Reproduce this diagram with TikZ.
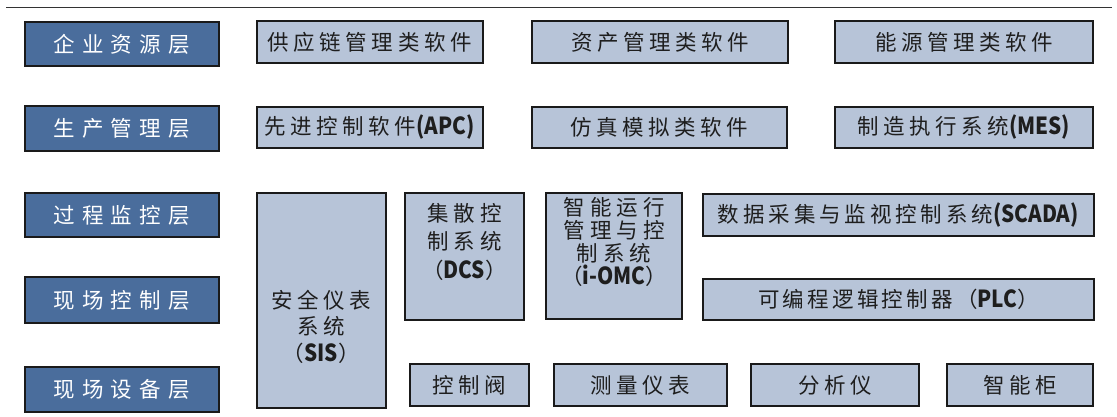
\documentclass[tikz,border=0pt]{standalone}
\usepackage{fontspec}
\newfontfamily\cjkfont{Noto Sans CJK SC}
\newcommand\lsp[1]{\addfontfeature{LetterSpace=#1}}
\newcommand\lat[1]{{\fontsize{23.5}{26}\selectfont\bfseries\addfontfeature{LetterSpace=0,FakeStretch=0.88}#1}}
\definecolor{layerblue}{HTML}{4A6D9C}
\definecolor{itemgray}{HTML}{B7C4D8}
\definecolor{edge}{HTML}{1A1A1A}
\definecolor{txt}{HTML}{1E1E1E}
\begin{document}
\begin{tikzpicture}[x=1pt,y=-1pt,
  layer/.style={draw=edge, line width=2pt, fill=layerblue, text=white, inner sep=0pt,
    minimum width=193.5pt, font=\cjkfont\fontsize{21.5}{26}\selectfont\lsp{34}},
  item/.style={draw=edge, line width=2pt, fill=itemgray, text=txt, inner sep=0pt,
    minimum height=42pt, font=\cjkfont\fontsize{21.5}{26}\selectfont\lsp{21}},
  itemtext/.style={text=txt, inner sep=0pt, align=center},
]
\useasboundingbox (0,0) rectangle (1117,416);
\fill[white] (0,0) rectangle (1117,416);
\coordinate (tl) at (6,7.5);
\coordinate (tr) at (1112,7.5);
\draw[line width=1.5pt, color=black!80] (tl) -- (tr);

% layer labels
\node[layer, minimum height=44pt] (l1) at (121.75,44) {企业资源层};
\node[layer, minimum height=45pt] (l2) at (121.75,128.5) {生产管理层};
\node[layer, minimum height=44pt] (l3) at (121.75,215) {过程监控层};
\node[layer, minimum height=46pt] (l4) at (121.75,300) {现场控制层};
\node[layer, minimum height=45pt] (l5) at (121.75,389.5) {现场设备层};

% row 1
\node[item, minimum width=226.5pt] (sc) at (369.75,42) {供应链管理类软件};
\node[item, minimum width=256.4pt] (zc) at (660.2,42) {资产管理类软件};
\node[item, minimum width=257.5pt] (ny) at (964,42) {能源管理类软件};

% row 2
\node[item, minimum width=226.5pt, minimum height=41pt] (apc) at (369.75,127.5) {先进控制软件\lat{(APC)}};
\node[item, minimum width=254.6pt, minimum height=41pt] (fz) at (659.3,127.5) {仿真模拟类软件};
\node[item, minimum width=257.5pt, minimum height=41pt] (mes) at (964,127.5) {制造执行系统\lat{(MES)}};

% tall boxes
\node[item, minimum width=129pt, minimum height=215pt] (sis) at (321.25,300.5) {};
\node[itemtext, font=\cjkfont\fontsize{21.5}{26.5}\selectfont\lsp{21}] (sist) at (321.25,326.5) {安全仪表\\系统\\（\lat{SIS}）};
\node[item, minimum width=119.7pt, minimum height=127pt] (dcs) at (464.5,256.5) {};
\node[itemtext, font=\cjkfont\fontsize{21.5}{28.5}\selectfont\lsp{24}] (dcst) at (464.5,241.5) {集散控\\制系统\\（\lat{DCS}）};
\node[item, minimum width=135.4pt, minimum height=126pt] (omc) at (614.1,256) {};
\node[itemtext, font=\cjkfont\fontsize{21.5}{23}\selectfont\lsp{23}] (omct) at (614.1,241.5) {智能运行\\管理与控\\制系统\\（\lat{i-OMC}）};

% right wide
\node[item, minimum width=391.2pt, minimum height=41.5pt] (scada) at (898.4,214.75) {\lsp{18}数据采集与监视控制系统\lat{(SCADA)}};
\node[item, minimum width=391.2pt, minimum height=41pt] (plc) at (898.4,299.5) {\lsp{15}可编程逻辑控制器（\lat{PLC}）};

% bottom row
\node[item, minimum width=119pt] (kzf) at (469.1,385) {控制阀};
\node[item, minimum width=173.4pt] (clyb) at (640.3,385) {测量仪表};
\node[item, minimum width=168pt] (fxy) at (834.8,385) {分析仪};
\node[item, minimum width=145.7pt] (znj) at (1020,385) {智能柜};
\end{tikzpicture}
\end{document}
